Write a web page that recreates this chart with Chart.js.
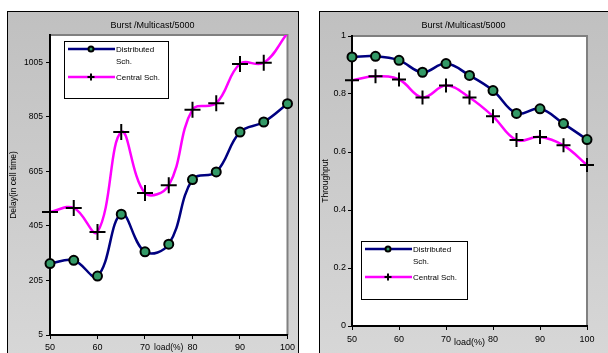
<!DOCTYPE html>
<html>
<head>
<meta charset="utf-8">
<script src="https://cdn.jsdelivr.net/npm/chart.js@4.4.1/dist/chart.umd.min.js"></script>
<style>
  body { margin: 0; width: 608px; height: 353px; overflow: hidden; background: #fff; position: relative; }
  .box { position: absolute; top: 11px; height: 360px; box-sizing: border-box; border: 1px solid #000;
         background: linear-gradient(#c0c0c0, #d8d8d8); }
  #box1 { left: 7px; width: 292px; }
  #box2 { left: 319px; width: 300px; }
  canvas { position: absolute; top: 11px; }
  #chart1 { left: 7px; }
  #chart2 { left: 319px; }
</style>
</head>
<body>
<div class="box" id="box1"></div>
<div class="box" id="box2"></div>
<canvas id="chart1" width="291" height="342"></canvas>
<canvas id="chart2" width="289" height="342"></canvas>
<script>
const loads = [50, 55, 60, 65, 70, 75, 80, 85, 90, 95, 100];
const loadTicks = [50, 60, 70, 80, 90, 100];
const seriesNames = ['Distributed Sch.', 'Central Sch.'];
const chartTitle = 'Burst /Multicast/5000';

const delayDistributed = [267, 279, 221, 448, 310, 338, 575, 603, 749, 786, 853];
const delayCentral = [456, 471, 383, 749, 526, 554, 831, 855, 999, 1003, 1112];
const delayTicks = [5, 205, 405, 605, 805, 1005];

const throughputDistributed = [0.928, 0.930, 0.916, 0.875, 0.905, 0.864, 0.812, 0.733, 0.749, 0.698, 0.643];
const throughputCentral = [0.847, 0.861, 0.850, 0.788, 0.829, 0.788, 0.723, 0.641, 0.652, 0.623, 0.555];
const throughputTicks = [0, 0.2, 0.4, 0.6, 0.8, 1];

const FONT = '"Liberation Sans", Arial, sans-serif';
const NAVY = '#000080';
const MAGENTA = '#ff00ff';
const GREEN = '#339966';

Chart.defaults.font.family = FONT;
Chart.defaults.color = '#000';

const pts = (vals) => vals.map((v, i) => ({ x: loads[i], y: v }));

// white plot area with the grey top / right edge
const plotFrame = {
  id: 'plotFrame',
  beforeDraw(chart) {
    const { ctx, chartArea: a } = chart;
    ctx.save();
    ctx.fillStyle = '#fff';
    ctx.fillRect(a.left, a.top, a.width, a.height);
    ctx.strokeStyle = '#808080';
    ctx.lineWidth = 2;
    ctx.beginPath();
    ctx.moveTo(a.left, a.top);
    ctx.lineTo(a.right, a.top);
    ctx.lineTo(a.right, a.bottom);
    ctx.stroke();
    ctx.restore();
  }
};

const boxTitle = {
  id: 'boxTitle',
  afterDraw(chart, args, opts) {
    const { ctx } = chart;
    ctx.save();
    ctx.font = `9px ${FONT}`;
    ctx.fillStyle = '#000';
    ctx.textAlign = 'center';
    ctx.textBaseline = 'middle';
    ctx.fillText(opts.text, chart.width / 2, opts.y);
    ctx.restore();
  }
};

function wrap(ctx, text, maxW) {
  const lines = [];
  let cur = '';
  text.split(' ').forEach(w => {
    const t = cur ? cur + ' ' + w : w;
    if (cur && ctx.measureText(t).width > maxW) { lines.push(cur); cur = w; } else cur = t;
  });
  lines.push(cur);
  return lines;
}

// Excel-style legend box inside the plot
const boxLegend = {
  id: 'boxLegend',
  afterDraw(chart, args, opts) {
    const { ctx, chartArea: a } = chart;
    const x = Math.round(a.left + opts.dx), y = Math.round(a.top + opts.dy);
    ctx.save();
    ctx.fillStyle = '#fff';
    ctx.fillRect(x, y, opts.w, opts.h);
    ctx.strokeStyle = '#000';
    ctx.lineWidth = 1;
    ctx.strokeRect(x + 0.5, y + 0.5, opts.w, opts.h);
    ctx.font = `8px ${FONT}`;
    ctx.textBaseline = 'middle';
    chart.data.datasets.forEach((ds, i) => {
      const ly = y + 8 + i * 28;
      ctx.strokeStyle = ds.borderColor;
      ctx.lineWidth = 2.5;
      ctx.beginPath();
      ctx.moveTo(x + 4, ly);
      ctx.lineTo(x + 51, ly);
      ctx.stroke();
      const mx = x + 27;
      ctx.strokeStyle = '#000';
      ctx.lineWidth = 2;
      if (ds.pointStyle === 'circle') {
        ctx.fillStyle = ds.pointBackgroundColor;
        ctx.beginPath();
        ctx.arc(mx, ly, 2.5, 0, Math.PI * 2);
        ctx.fill();
        ctx.stroke();
      } else {
        ctx.beginPath();
        ctx.moveTo(mx - 3.5, ly); ctx.lineTo(mx + 3.5, ly);
        ctx.moveTo(mx, ly - 3.5); ctx.lineTo(mx, ly + 3.5);
        ctx.stroke();
      }
      ctx.fillStyle = '#000';
      wrap(ctx, ds.label, 50).forEach((line, k) => ctx.fillText(line, x + 52, ly + 1 + k * 12));
    });
    ctx.restore();
  }
};

function makeChart(id, cfg) {
  const distributed = {
    label: seriesNames[0],
    data: pts(cfg.distributed),
    borderColor: NAVY,
    borderWidth: 2.5,
    pointStyle: 'circle',
    pointRadius: 4.5,
    pointBackgroundColor: GREEN,
    pointBorderColor: '#000',
    pointBorderWidth: 2,
    tension: 0.4,
    clip: { left: 10, right: 10, top: 0, bottom: 10 }
  };
  const central = {
    label: seriesNames[1],
    data: pts(cfg.central),
    borderColor: MAGENTA,
    borderWidth: 2.5,
    pointStyle: 'cross',
    // Excel hides markers that fall above the axis maximum
    pointRadius: (c) => (c.raw && c.raw.y > cfg.max ? 0 : cfg.crossSize),
    pointBorderColor: '#000',
    pointBorderWidth: 2,
    tension: 0.4,
    clip: { left: 10, right: 10, top: 0, bottom: 10 }
  };
  return new Chart(document.getElementById(id).getContext('2d'), {
    type: 'line',
    data: { datasets: [distributed, central] },
    plugins: [plotFrame, boxTitle, boxLegend],
    options: {
      responsive: false,
      animation: false,
      layout: { padding: { top: cfg.top, right: cfg.right, bottom: 0, left: 0 } },
      plugins: {
        legend: { display: false },
        tooltip: { enabled: false },
        boxTitle: { text: chartTitle, y: 15 },
        boxLegend: cfg.legend
      },
      scales: {
        x: {
          type: 'linear',
          min: 50,
          max: 100,
          afterBuildTicks: (axis) => { axis.ticks = loadTicks.map(v => ({ value: v })); },
          afterFit: (scale) => { scale.height = cfg.xHeight; },
          border: { color: '#000', width: 2 },
          grid: { drawOnChartArea: false, color: '#000', tickLength: 4 },
          ticks: { font: { size: 9 }, padding: cfg.xPad, maxRotation: 0, callback: (v) => String(v) },
          title: { display: true, text: 'load(%)', font: { size: cfg.xTitleSize }, padding: { top: 0, bottom: cfg.xTitlePad } }
        },
        y: {
          min: cfg.min,
          max: cfg.max,
          afterBuildTicks: (axis) => { axis.ticks = cfg.ticks.map(v => ({ value: v })); },
          afterFit: (scale) => { scale.width = cfg.yWidth; },
          border: { color: '#000', width: 2 },
          grid: { drawOnChartArea: false, color: '#000', tickLength: 4 },
          ticks: { font: { size: cfg.yTickSize }, padding: cfg.yPad, callback: (v) => String(v) },
          title: { display: true, text: cfg.yTitle, font: { size: 8.5 }, padding: { top: 2, bottom: 0 } }
        }
      }
    }
  });
}

makeChart('chart1', {
  distributed: delayDistributed,
  central: delayCentral,
  min: 5, max: 1105, ticks: delayTicks,
  yTitle: 'Delay(in cell time)',
  top: 24, right: 10, xHeight: 18, yWidth: 43,
  xPad: 3, xTitlePad: 0, xTitleSize: 8.5, yPad: 3, yTickSize: 8.5,
  crossSize: 8,
  legend: { dx: 14, dy: 6, w: 104, h: 57 }
});

makeChart('chart2', {
  distributed: throughputDistributed,
  central: throughputCentral,
  min: 0, max: 1, ticks: throughputTicks,
  yTitle: 'Throughput',
  top: 25, right: 21, xHeight: 27, yWidth: 33,
  xPad: 4, xTitlePad: 5, xTitleSize: 9, yPad: 2, yTickSize: 9,
  crossSize: 7,
  legend: { dx: 9, dy: 205, w: 106, h: 58 }
});
</script>
</body>
</html>
